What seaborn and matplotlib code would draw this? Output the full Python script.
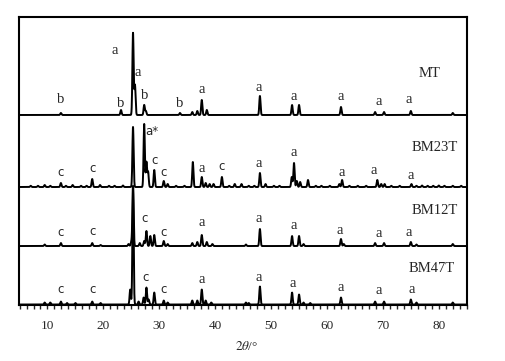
import numpy as np
import pandas as pd
import seaborn as sns
import matplotlib.pyplot as plt
from matplotlib.ticker import MultipleLocator

# XRD peaks: (2theta, intensity)
mt_peaks = [(12.4, 2), (23.15, 5), (25.3, 82), (25.65, 30), (27.3, 10), (27.6, 4),
            (33.7, 2), (35.9, 3), (36.8, 4), (37.6, 15), (38.5, 5), (48.0, 19),
            (53.75, 10), (55.0, 10), (62.5, 8), (68.6, 3), (70.2, 3), (75.0, 4), (82.5, 2)]
bm23_peaks = [(7.0, 1.2), (8.3, 1.2), (9.5, 2), (10.5, 1.2), (12.4, 4), (13.3, 1.2), (14.5, 2),
              (16.0, 1.2), (17.0, 1.2), (18.0, 8), (19.4, 2), (21.0, 1.2), (22.0, 1.2),
              (23.5, 1.5), (25.3, 60), (27.3, 63), (27.7, 25), (28.0, 15), (29.1, 17),
              (30.8, 6), (31.5, 3), (33.0, 1.2), (34.5, 1.2), (36.0, 25), (37.6, 10),
              (38.3, 4), (39.0, 3), (39.7, 3), (41.2, 10), (42.5, 1.2), (43.5, 3), (44.7, 3),
              (46.0, 1.2), (47.0, 1.2), (48.0, 14), (49.0, 3), (50.5, 1.2), (51.5, 1.2),
              (53.7, 10), (54.1, 24), (54.6, 6), (55.2, 5), (56.6, 7), (58.0, 1.2), (59.0, 1.2),
              (60.5, 1.2), (62.2, 3), (62.7, 7), (64.0, 1.2), (65.5, 1.2), (67.0, 1.2),
              (69.0, 7), (69.7, 3), (70.3, 3), (71.5, 1.2), (73.0, 1.2), (75.1, 3), (76.0, 1.2),
              (77.0, 1.5), (78.0, 1.2), (79.0, 1.2), (80.0, 1.5), (81.0, 1.2), (82.5, 1.2), (84.0, 1.2)]
bm12_peaks = [(9.5, 1.5), (12.4, 3), (18.0, 3), (19.5, 1), (24.5, 2), (25.0, 4), (25.3, 60),
              (26.5, 3), (27.3, 5), (27.7, 15), (28.4, 10), (29.1, 11), (30.8, 5), (31.5, 2),
              (35.9, 3), (36.8, 4), (37.6, 11), (38.5, 4), (39.5, 2), (45.5, 1.5), (48.0, 17),
              (53.75, 10), (55.0, 10), (55.8, 2), (62.5, 7), (63.0, 2), (68.6, 3), (70.2, 3),
              (75.0, 4), (76.0, 1.5), (82.5, 2)]
bm47_peaks = [(9.5, 2), (10.5, 2), (12.4, 3), (13.5, 1.5), (15.0, 1.5), (18.0, 3), (19.5, 1.5),
              (24.8, 15), (25.3, 118), (26.3, 3), (27.2, 7), (27.7, 17), (28.1, 5), (29.1, 12),
              (30.8, 4), (31.5, 2), (35.9, 4), (36.8, 4), (37.6, 15), (38.3, 4), (39.3, 2),
              (45.5, 2), (46.0, 1.5), (48.0, 18), (53.75, 12), (55.0, 10), (55.8, 2), (57.0, 1.5),
              (62.5, 7), (68.6, 3), (70.2, 3), (75.0, 5), (76.0, 2), (82.5, 2)]

samples = ['MT', 'BM23T', 'BM12T', 'BM47T']
offsets = [190, 118, 59, 0.5]
peak_sets = [mt_peaks, bm23_peaks, bm12_peaks, bm47_peaks]

# phase marks: (text, 2theta, height)
mt_marks = [('b', 12.4, 205), ('b', 23.15, 201), ('a', 22.1, 254), ('a', 26.2, 232),
            ('b', 27.3, 209), ('b', 33.7, 201), ('a', 37.6, 215), ('a', 47.8, 217),
            ('a', 54.1, 208), ('a', 62.5, 208), ('a', 69.3, 203), ('a', 74.7, 205)]
bm23_marks = [('c', 12.4, 133), ('c', 18.0, 137), ('a*', 28.7, 173), ('c', 29.2, 145),
              ('c', 30.8, 133), ('a', 37.6, 137), ('c', 41.2, 139), ('a', 47.8, 142),
              ('a', 54.1, 153), ('a', 62.7, 133), ('a', 68.4, 135), ('a', 74.9, 130)]
bm12_marks = [('c', 12.4, 73), ('c', 18.0, 74), ('c', 27.3, 87), ('c', 30.7, 73),
              ('a', 37.6, 83), ('a', 47.7, 87), ('a', 54.1, 80), ('a', 62.3, 75),
              ('a', 69.3, 72), ('a', 74.7, 73)]
bm47_marks = [('c', 12.4, 16), ('c', 18.0, 16), ('c', 27.6, 28), ('c', 30.7, 16),
              ('a', 37.6, 26), ('a', 47.8, 28), ('a', 53.9, 22), ('a', 62.5, 18),
              ('a', 69.3, 15), ('a', 75.2, 16)]
name_pos = [(78.4, 231), (79.3, 158), (79.3, 95), (78.8, 37)]

two_theta = np.arange(4.9, 85.0, 0.02)
frames = []
for name, off, peaks in zip(samples, offsets, peak_sets):
    y = np.zeros_like(two_theta)
    for pos, h in peaks:
        y += h * np.exp(-0.5 * ((two_theta - pos) / 0.11) ** 2)
    frames.append(pd.DataFrame({'two_theta': two_theta, 'y': y + off, 'sample': name}))
df = pd.concat(frames, ignore_index=True)

sns.set_style('white')
plt.rcParams['font.family'] = ['Liberation Serif', 'DejaVu Serif']
plt.rcParams['mathtext.fontset'] = 'stix'

fig = plt.figure(figsize=(5.06, 3.61), dpi=100)
ax = fig.add_axes([0.0375, 0.155, 0.8855, 0.798])
sns.lineplot(data=df, x='two_theta', y='y', units='sample', estimator=None,
             color='black', lw=1.4, sort=False, ax=ax)

serif = ['Liberation Serif']
sans = ['DejaVu Sans']
for marks in [mt_marks, bm23_marks, bm12_marks, bm47_marks]:
    for t, xx, yy in marks:
        if t == 'c' or t == 'a*':
            ax.text(xx, yy, t, fontsize=8.5, family=sans, ha='center', va='center')
        else:
            ax.text(xx, yy, t, fontsize=10.5, family=serif, ha='center', va='center')
for name, (xx, yy) in zip(samples, name_pos):
    ax.text(xx, yy, name, fontsize=10.5, family=serif, ha='center', va='center')

ax.set_xlim(4.9, 85.05)
ax.set_ylim(0, 288)
ax.set_yticks([])
ax.xaxis.set_major_locator(MultipleLocator(10))
ax.xaxis.set_minor_locator(MultipleLocator(1.25))
ax.tick_params(axis='x', which='both', direction='out', length=3, width=1.0,
               bottom=True, labelsize=9.5, pad=8)
ax.set_xticks(range(10, 90, 10))
for s in ax.spines.values():
    s.set_linewidth(1.5)
    s.set_color('black')
ax.set_xlabel('')
ax.set_ylabel('')
fig.text(0.488, 0.04, r'$2\theta$/°', fontsize=9.5, ha='center', va='center')

fig.savefig('out.png', dpi=100)
